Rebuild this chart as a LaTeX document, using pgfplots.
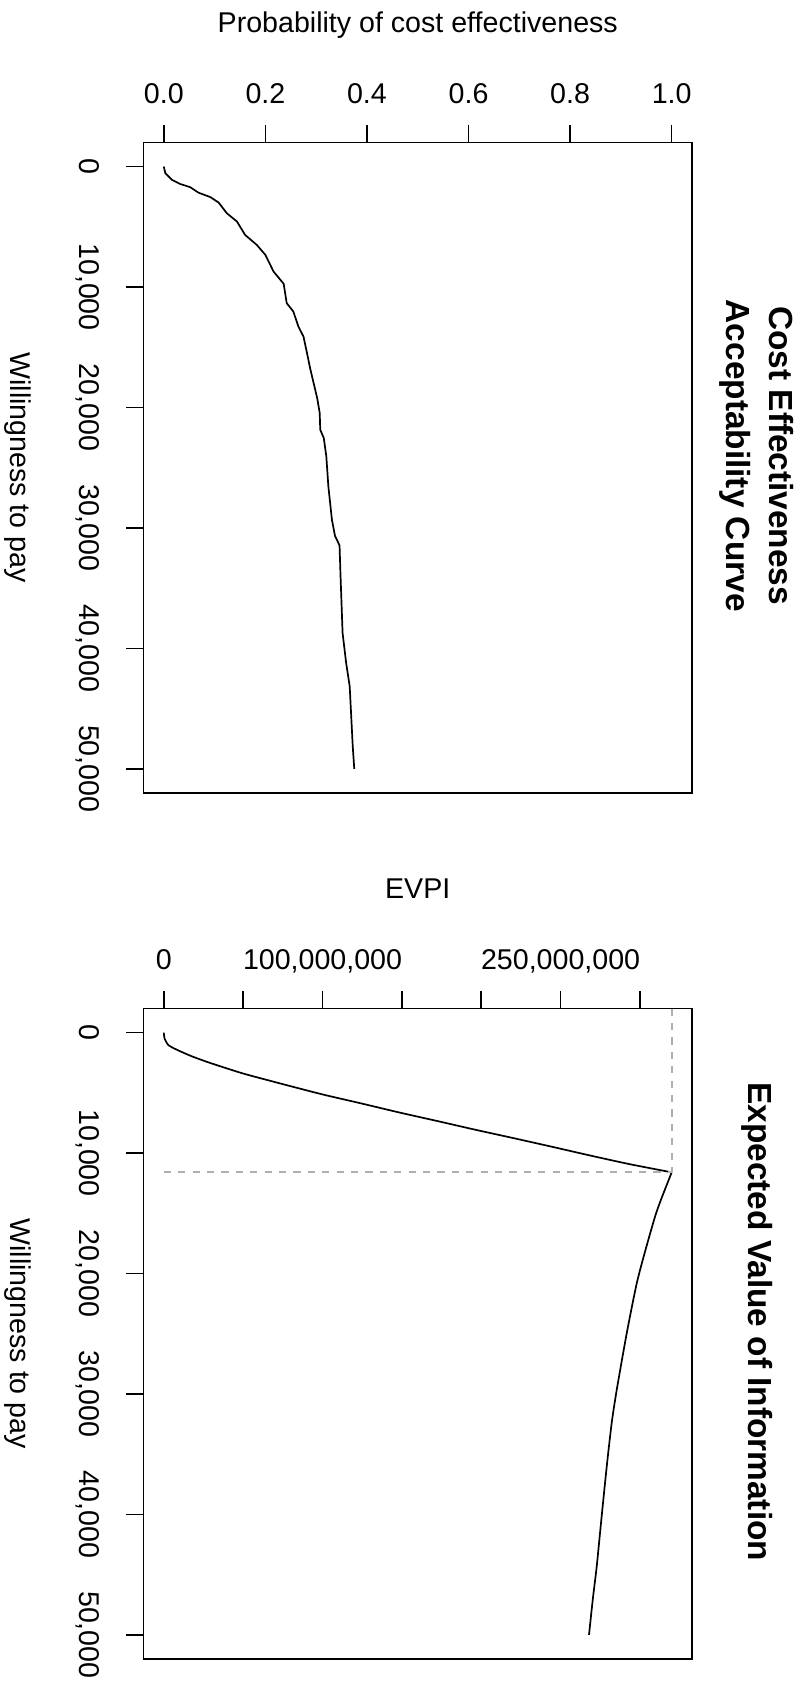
\documentclass[border=0pt]{standalone}
\usepackage{pgfplots}
\pgfplotsset{compat=1.18}
\usepackage{fontspec}
\setmainfont{Liberation Sans}
\begin{document}
\begin{tikzpicture}
\useasboundingbox (0pt,0pt) rectangle (401.5pt,-842pt);
\pgfplotsset{
  rpanel/.style={
    scale only axis, width=274.25pt, height=325.2pt,
    scaled x ticks=false, scaled y ticks=false,
    axis line style={line width=0.8pt},
    tick style={line width=0.8pt, black}, major tick length=8.85pt,
    tick align=outside,
    xtick pos=right, xticklabel pos=right, ytick pos=left,
    y dir=reverse, ymin=-2000, ymax=52000,
    ytick={0,10000,20000,30000,40000,50000},
    yticklabels={{0},{10,000},{20,000},{30,000},{40,000},{50,000}},
    yticklabel style={rotate=-90, anchor=north, inner sep=0pt},
    yticklabel shift=12.9pt,
    xticklabel style={anchor=base, inner sep=0pt},
    xticklabel shift=10.9pt,
    ticklabel style={font=\fontsize{14.3}{17}\selectfont},
    label style={font=\fontsize{14.3}{17}\selectfont},
    ylabel={Willingness to pay},
    ylabel style={at={(axis description cs:-0.2418,0.5)}, rotate=180, anchor=base},
    xlabel style={at={(axis description cs:0.5,1.169)}, anchor=base},
    title style={at={(axis description cs:1.118,0.5)}, rotate=-90, anchor=center, align=center, font=\bfseries\fontsize{16.7}{21.7}\selectfont},
  }
}
% Panel 1: CEAC
\begin{axis}[rpanel, at={(71.75pt,-71.25pt)}, anchor=north west,
  xmin=-0.04, xmax=1.04,
  xtick={0,0.2,0.4,0.6,0.8,1.0},
  xticklabels={{0.0},{0.2},{0.4},{0.6},{0.8},{1.0}},
  xlabel={Probability of cost effectiveness},
  title={Cost Effectiveness\\Acceptability Curve}]
\addplot[black, line width=0.85pt] coordinates {
(0,0) (0.003,550) (0.016,1100) (0.032,1440) (0.052,1710) (0.068,2160)
(0.092,2540) (0.108,2990) (0.124,3870) (0.144,4560) (0.160,5670)
(0.183,6500) (0.200,7330) (0.216,8710) (0.236,9730) (0.242,11340)
(0.255,12030) (0.265,13280) (0.275,14110) (0.282,15490) (0.288,16730)
(0.295,17980) (0.302,19220) (0.307,20470) (0.308,21850) (0.315,22540)
(0.320,24070) (0.324,26560) (0.331,29320) (0.337,30650) (0.346,31450)
(0.348,34020) (0.352,38720) (0.359,41210) (0.366,43150) (0.369,45640)
(0.372,48130) (0.375,50000)
};
\end{axis}
% Panel 2: EVPI (values in millions)
\begin{axis}[rpanel, at={(71.75pt,-504.25pt)}, anchor=north west,
  xmin=-12.8, xmax=332.8,
  xtick={0,50,100,150,200,250,300},
  xticklabels={{0},{},{100,000,000},{},{},{250,000,000},{}},
  xlabel={EVPI},
  title={Expected Value of Information}]
\addplot[black, line width=0.85pt, smooth, tension=0.4] coordinates {
(0,0) (0.5,500) (3.0,1050) (9.0,1470) (17.5,1960) (27.2,2430)
(38.5,2920) (51.4,3450) (75.6,4300) (99.9,5130) (124.1,5870) (148.3,6630)
(172.6,7350) (196.8,8080) (221.0,8780) (245.3,9500) (269.5,10230)
(293.8,10930) (320.0,11600)
};
\addplot[black, line width=0.85pt, smooth, tension=0.4] coordinates {
(320.0,11600) (313.2,13890) (309.5,15280) (303.5,18040) (298.0,20800)
(291.7,24940) (285.4,29640) (282.2,32400) (279.1,35990) (275.9,40130)
(272.8,44270) (270.3,47030) (267.9,50000)
};
\addplot[color={rgb,255:red,175;green,175;blue,175}, line width=0.85pt, dash pattern=on 3.6pt off 3.6pt] coordinates {(0,11600) (320.0,11600)};
\addplot[color={rgb,255:red,175;green,175;blue,175}, line width=0.85pt, dash pattern=on 3.6pt off 3.6pt] coordinates {(320.0,-2000) (320.0,11600)};
\end{axis}
\end{tikzpicture}
\end{document}
